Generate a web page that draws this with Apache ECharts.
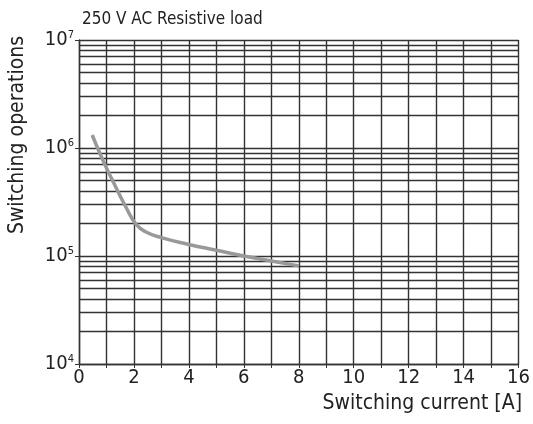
<!DOCTYPE html>
<html>
<head>
<meta charset="utf-8">
<script src="https://cdn.jsdelivr.net/npm/echarts@6/dist/echarts.min.js"></script>
<style>
html,body{margin:0;padding:0;background:#fff;}
#c{width:533px;height:424px;}
</style>
</head>
<body>
<div id="c"></div>
<script>
var currentA = [0.48, 0.88, 1.24, 1.72, 2.08, 2.44, 3.0, 4.0, 5.0, 6.0, 7.0, 8.0];
var operations = [1320000, 760000, 490000, 280000, 196000, 167000, 148000, 128000, 113000, 100000, 90000, 81000];
var minorGridValues = [
  20000, 30000, 40000, 50000, 60000, 70000, 80000, 90000,
  200000, 300000, 400000, 500000, 600000, 700000, 800000, 900000,
  2000000, 3000000, 4000000, 5000000, 6000000, 7000000, 8000000, 9000000
];
var titleText = '250 V AC Resistive load';
var yName = 'Switching operations';
var xName = 'Switching current [A]';

var FONT = '"Liberation Sans Narrow", "DejaVu Sans Condensed", sans-serif';
var GRID = '#333';
var TXT = '#222';

var chart = echarts.init(document.getElementById('c'));
chart.setOption({
  animation: false,
  backgroundColor: '#fff',
  grid: {left: 79, right: 11, top: 40, bottom: 60},
  title: {
    text: titleText, left: 77, top: 6,
    textStyle: {fontFamily: FONT, fontSize: 17, fontWeight: 'normal', color: TXT}
  },
  graphic: [
    {type: 'text', x: 18, y: 135, rotation: Math.PI / 2,
     style: {text: yName, fontFamily: FONT, fontSize: 21, fill: TXT, textAlign: 'center', textVerticalAlign: 'middle'}},
    {type: 'text', right: 11, top: 393,
     style: {text: xName, fontFamily: FONT, fontSize: 21, fill: TXT}}
  ],
  xAxis: {
    type: 'value', min: 0, max: 16, interval: 1,
    axisLine: {show: true, lineStyle: {color: GRID, width: 1.4}},
    axisTick: {show: true, length: 4, lineStyle: {color: GRID}},
    splitLine: {show: true, lineStyle: {color: GRID, width: 1.4}},
    axisLabel: {
      fontFamily: FONT, fontSize: 20, color: TXT, margin: 4,
      formatter: function (v) { return v % 2 === 0 ? String(v) : ''; }
    }
  },
  yAxis: {
    type: 'log', logBase: 10, min: 10000, max: 10000000,
    axisLine: {show: true, lineStyle: {color: GRID, width: 1.4}},
    axisTick: {show: true, length: 4, lineStyle: {color: GRID}},
    splitLine: {show: true, lineStyle: {color: GRID, width: 1.4}},
    axisLabel: {
      margin: 5, color: TXT,
      formatter: function (v) {
        var e = Math.round(Math.log10(v));
        return '{b|10}{s|' + e + '}';
      },
      rich: {
        b: {fontFamily: FONT, fontSize: 20, color: TXT},
        s: {fontFamily: FONT, fontSize: 11, color: TXT, padding: [0, 0, 10, 0]}
      }
    }
  },
  series: [
    {
      type: 'line', data: currentA.map(function (x, i) { return [x, operations[i]]; }),
      smooth: 0.5, showSymbol: false, symbol: 'none',
      lineStyle: {color: '#999', width: 3.5}, z: 5,
      markLine: {
        silent: true, symbol: 'none', label: {show: false},
        lineStyle: {color: GRID, width: 1.3, type: 'solid'},
        data: minorGridValues.map(function (v) { return {yAxis: v}; }),
        z: 1
      }
    }
  ]
});
</script>
</body>
</html>
